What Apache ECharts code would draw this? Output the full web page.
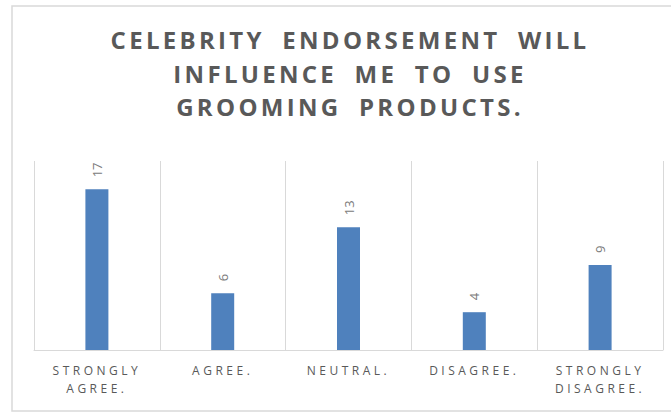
<!DOCTYPE html>
<html>
<head>
<meta charset="utf-8">
<script src="https://cdn.jsdelivr.net/npm/echarts@6/dist/echarts.min.js"></script>
<style>
  html, body { margin: 0; padding: 0; background: #ffffff; }
  #chart { width: 671px; height: 412px; }
</style>
</head>
<body>
<div id="chart"></div>
<script>
// Survey responses
const titleText = 'CELEBRITY ENDORSEMENT WILL\nINFLUENCE ME TO USE\nGROOMING PRODUCTS.';
const categories = ['STRONGLY AGREE.', 'AGREE.', 'NEUTRAL.', 'DISAGREE.', 'STRONGLY DISAGREE.'];
const responses = [17, 6, 13, 4, 9];

// Two-word answers are split over two lines
const categoryLines = c => c.split(' ').join('\n');

const chart = echarts.init(document.getElementById('chart'), null, { renderer: 'svg' });

chart.setOption({
  animation: false,
  backgroundColor: '#ffffff',
  graphic: [{
    type: 'rect',
    shape: { x: 12, y: 6, width: 700, height: 405 },
    style: { fill: 'none', stroke: '#d9d9d9', lineWidth: 1.5 },
    silent: true
  }],
  title: {
    text: titleText,
    left: 350,
    top: 23,
    padding: 0,
    textAlign: 'center',
    textStyle: {
      fontFamily: 'Open Sans',
      fontWeight: 'bold',
      fontSize: 24,
      lineHeight: 33.5,
      color: '#595959'
    }
  },
  grid: { left: 34, right: 8, top: 161, bottom: 62, containLabel: false },
  xAxis: {
    type: 'category',
    data: categories,
    axisLine: { lineStyle: { color: '#d9d9d9', width: 1 } },
    axisTick: { show: false },
    splitLine: { show: true, lineStyle: { color: '#d9d9d9', width: 1 } },
    axisLabel: {
      formatter: categoryLines,
      interval: 0,
      margin: 11,
      fontFamily: 'Open Sans',
      fontSize: 12,
      lineHeight: 18,
      color: '#595959'
    }
  },
  yAxis: {
    type: 'value',
    min: 0,
    max: 20,
    show: false,
    splitLine: { show: false }
  },
  series: [{
    type: 'bar',
    data: responses,
    barWidth: 23,
    itemStyle: { color: '#4f81bd' },
    label: {
      show: true,
      position: 'top',
      distance: 12,
      rotate: 90,
      align: 'left',
      verticalAlign: 'middle',
      fontFamily: 'Open Sans',
      fontSize: 13,
      color: '#7a7a7a'
    }
  }]
});

// Widen the tracking of the title and the answer names
const titleLines = new Set(titleText.split('\n'));
const answerLines = new Set(categories.flatMap(c => c.split(' ')));
function spaceLetters() {
  document.querySelectorAll('#chart text').forEach(t => {
    const s = t.textContent;
    if (titleLines.has(s)) {
      t.setAttribute('letter-spacing', '3.3');
      t.setAttribute('word-spacing', '8');
    } else if (answerLines.has(s)) {
      t.setAttribute('letter-spacing', '3.5');
    }
  });
}
chart.on('finished', spaceLetters);
spaceLetters();
</script>
</body>
</html>
